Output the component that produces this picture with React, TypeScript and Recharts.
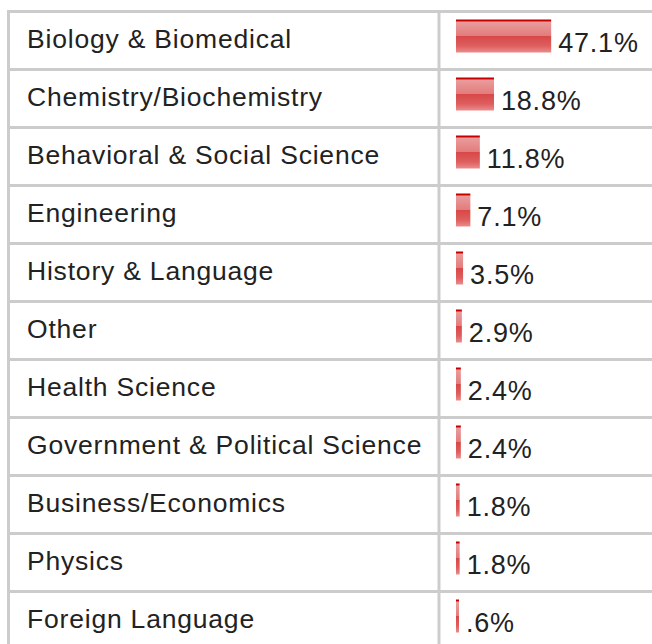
import React from "react";
import { BarChart, Bar, XAxis, YAxis, LabelList } from "recharts";

const categories = [
  "Biology & Biomedical",
  "Chemistry/Biochemistry",
  "Behavioral & Social Science",
  "Engineering",
  "History & Language",
  "Other",
  "Health Science",
  "Government & Political Science",
  "Business/Economics",
  "Physics",
  "Foreign Language",
];
const values = [47.1, 18.8, 11.8, 7.1, 3.5, 2.9, 2.4, 2.4, 1.8, 1.8, 0.6];
const valueLabels = ["47.1%", "18.8%", "11.8%", "7.1%", "3.5%", "2.9%", "2.4%", "2.4%", "1.8%", "1.8%", ".6%"];

const data = categories.map((name, i) => ({ name, value: values[i], label: valueLabels[i] }));

const FONT = '"Liberation Sans", Arial, Helvetica, sans-serif';
const GRID = "#cccccc";
const TEXT = "#222222";

const RowTick = (props: any) => {
  const { y, payload } = props;
  const half = 29;
  return (
    <g>
      <line x1={7} x2={652} y1={y - half} y2={y - half} stroke={GRID} strokeWidth={3} />
      <line x1={8.5} x2={8.5} y1={y - half - 1.5} y2={y + half + 1.5} stroke={GRID} strokeWidth={3} />
      <line x1={439} x2={439} y1={y - half - 1.5} y2={y + half + 1.5} stroke={GRID} strokeWidth={3} />
      <text x={27} y={y + 7.5} fontSize={26.5} letterSpacing={0.8} fontFamily={FONT} fill={TEXT} textAnchor="start">
        {payload.value}
      </text>
    </g>
  );
};

const GlassBar = (props: any) => {
  const { x, y, width, height } = props;
  if (width == null || height == null) return null;
  return <rect x={x} y={y - 5} width={width} height={height} fill="url(#glassRed)" />;
};

const ValueLabel = (props: any) => {
  const { x, y, width, height, value } = props;
  return (
    <text x={x + width + 7} y={y - 5 + height - 1} fontSize={27} letterSpacing={0.8} fontFamily={FONT} fill={TEXT} textAnchor="start">
      {value}
    </text>
  );
};

export default function App() {
  return (
    <div style={{ position: "absolute", left: 0, top: 0, width: 652, height: 644, overflow: "hidden", background: "#fff" }}>
      <BarChart
        width={652}
        height={660}
        data={data}
        layout="vertical"
        margin={{ top: 11.5, right: 0, bottom: 10.5, left: 0 }}
        barCategoryGap={0}
      >
        <defs>
          <linearGradient id="glassRed" x1="0" y1="0" x2="0" y2="1">
            <stop offset="0" stopColor="#c40000" />
            <stop offset="0.05" stopColor="#c40000" />
            <stop offset="0.07" stopColor="#ea9c9c" />
            <stop offset="0.5" stopColor="#e37c7c" />
            <stop offset="0.51" stopColor="#d84848" />
            <stop offset="0.8" stopColor="#de5e5e" />
            <stop offset="1" stopColor="#ec8c8c" />
          </linearGradient>
        </defs>
        <XAxis type="number" domain={[0, 97]} hide />
        <YAxis
          type="category"
          dataKey="name"
          width={456}
          axisLine={false}
          tickLine={false}
          interval={0}
          tick={(p: any) => <RowTick {...p} />}
        />
        <Bar
          dataKey="value"
          barSize={33}
          minPointSize={3}
          isAnimationActive={false}
          shape={(p: any) => <GlassBar {...p} />}
        >
          <LabelList dataKey="label" content={(p: any) => <ValueLabel {...p} />} />
        </Bar>
      </BarChart>
    </div>
  );
}
